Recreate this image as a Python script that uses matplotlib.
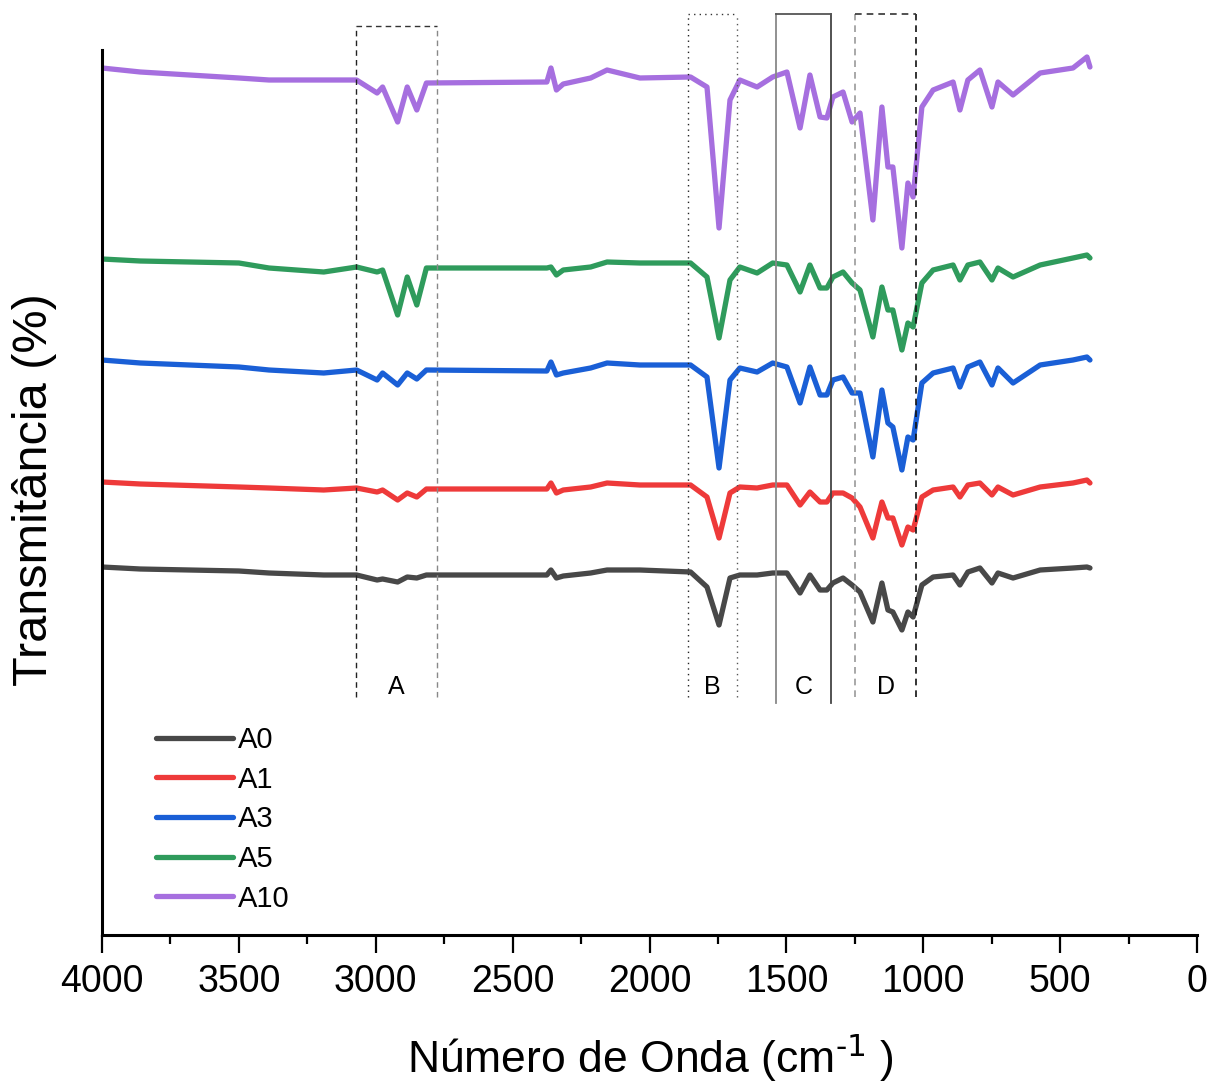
import numpy as np
import matplotlib
matplotlib.use("Agg")
import matplotlib.pyplot as plt
from matplotlib.ticker import MultipleLocator

plt.rcParams['font.family'] = ['Liberation Sans', 'DejaVu Sans']
plt.rcParams['mathtext.default'] = 'regular'

# wavenumber grid (cm-1)
wn = [4000, 3860, 3500, 3390, 3190, 3070, 2995, 2975, 2920, 2885,
      2850, 2815, 2375, 2360, 2340, 2315, 2215, 2155, 2035, 1850,
      1790, 1746, 1706, 1670, 1607, 1550, 1498, 1450, 1414, 1377,
      1352, 1330, 1293, 1260, 1231, 1184, 1151, 1129, 1111, 1078,
      1056, 1037, 1005, 964, 891, 866, 837, 793, 749, 727,
      672, 573, 453, 402, 391]

# transmittance (stacked, arbitrary units)
a0 = [368, 366, 364, 362, 360, 360, 355, 356, 353, 358,
      357, 360, 360, 365, 357, 359, 362, 365, 365, 363,
      348, 310, 357, 360, 360, 362, 362, 342, 360, 345,
      345, 352, 357, 350, 343, 313, 352, 325, 323, 305,
      323, 318, 350, 358, 360, 350, 363, 367, 352, 362,
      357, 365, 367, 368, 367]
a1 = [453, 451, 448, 447, 445, 447, 443, 445, 435, 442,
      438, 446, 446, 452, 442, 445, 448, 452, 450, 450,
      438, 397, 442, 448, 447, 450, 450, 430, 443, 433,
      433, 442, 442, 437, 428, 397, 433, 417, 417, 390,
      408, 405, 438, 445, 448, 438, 450, 452, 440, 448,
      440, 448, 452, 455, 452]
a3 = [575, 572, 568, 565, 562, 565, 555, 562, 550, 562,
      556, 565, 564, 573, 560, 562, 567, 572, 570, 570,
      558, 467, 555, 567, 563, 572, 568, 532, 568, 540,
      540, 555, 558, 542, 542, 478, 545, 512, 508, 465,
      498, 495, 552, 562, 567, 548, 568, 573, 550, 567,
      552, 570, 575, 578, 575]
a5 = [676, 674, 672, 667, 663, 668, 663, 665, 620, 658,
      630, 667, 667, 668, 660, 665, 668, 673, 672, 672,
      658, 597, 655, 668, 662, 672, 670, 643, 670, 647,
      647, 658, 663, 652, 645, 598, 648, 625, 625, 585,
      612, 608, 652, 665, 670, 655, 670, 673, 655, 667,
      658, 670, 677, 680, 677]
a10 = [867, 863, 857, 855, 855, 855, 842, 848, 813, 848,
       825, 852, 853, 867, 845, 851, 857, 865, 857, 858,
       848, 707, 835, 855, 848, 858, 863, 807, 860, 818,
       817, 838, 843, 813, 822, 715, 828, 768, 768, 687,
       752, 738, 828, 845, 853, 825, 855, 865, 828, 853,
       840, 862, 867, 878, 868]

labels = ['A0', 'A1', 'A3', 'A5', 'A10']
colors = ['#484848', '#ee3a3a', '#1a5fd6', '#2f9b5c', '#a66fdf']

# band regions: (left wn, right wn, label)
regions = [(3072, 2776, 'A'), (1859, 1680, 'B'), (1538, 1337, 'C'), (1249, 1026, 'D')]

fig = plt.figure(figsize=(12.22, 10.88), dpi=100)
ax = fig.add_axes([102/1222, 1-935/1088, 1095/1222, 885/1088])

for y, lab, c in zip([a0, a1, a3, a5, a10], labels, colors):
    ax.plot(wn, y, color=c, lw=3.8, label=lab, solid_joinstyle='round', solid_capstyle='round')

ax.set_xlim(4000, 0)
ax.set_ylim(0, 885)

# boxes around bands (open at the bottom)
def box(x0, x1, top, bot, lstyle, lcol, rcol, tcol, lw=1.0):
    ax.plot([x0, x0], [bot, top], ls=lstyle, color=lcol, lw=lw, clip_on=False)
    ax.plot([x1, x1], [bot, top], ls=lstyle, color=rcol, lw=lw, clip_on=False)
    ax.plot([x0, x1], [top, top], ls=lstyle, color=tcol, lw=lw, clip_on=False)

box(regions[0][0], regions[0][1], 909, 238, (0, (4, 3)), '#222222', '#888888', '#333333')
box(regions[1][0], regions[1][1], 921, 238, (0, (1, 3)), '#222222', '#555555', '#333333')
box(regions[2][0], regions[2][1], 921, 232, '-', '#888888', '#444444', '#555555', lw=1.3)
box(regions[3][0], regions[3][1], 921, 238, (0, (4, 3)), '#999999', '#111111', '#333333', lw=1.2)

for x0, x1, t in regions:
    ax.text((x0 + x1) / 2, 248, t, fontsize=18, ha='center', va='center')

for s in ['top', 'right']:
    ax.spines[s].set_visible(False)
ax.spines['left'].set_linewidth(2.2)
ax.spines['bottom'].set_linewidth(2.2)
ax.set_yticks([])
ax.xaxis.set_major_locator(MultipleLocator(500))
ax.xaxis.set_minor_locator(MultipleLocator(250))
ax.tick_params(axis='x', which='major', direction='out', length=13, width=1.6, labelsize=27, pad=8)
ax.tick_params(axis='x', which='minor', direction='out', length=6.5, width=1.6)

fig.text(35/1222, 1-490/1088, 'Transmitância (%)', rotation=90, fontsize=35, ha='center', va='center')
fig.text(650/1222, 1-1058/1088, 'Número de Onda (cm$^{\\text{-1}}$ )', fontsize=32, ha='center', va='center')

ax.legend(loc='upper left', bbox_to_anchor=(156/1222, 1-726/1088), bbox_transform=fig.transFigure,
          frameon=False, fontsize=21, handlelength=2.65, handletextpad=0.17, labelspacing=0.4,
          borderpad=0, borderaxespad=0)

fig.savefig('out.png', dpi=100)
